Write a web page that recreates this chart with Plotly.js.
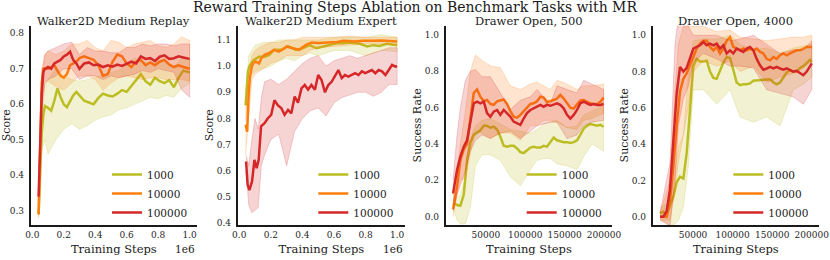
<!DOCTYPE html>
<html>
<head>
<meta charset="utf-8">
<script src="https://cdn.plot.ly/plotly-3.0.1.min.js"></script>
<style>html,body{margin:0;padding:0;background:#fff;}#chart{width:830px;height:260px;}</style>
</head>
<body>
<div id="chart"></div>
<script>
// ---------- Data ----------
const seriesNames = ['1000', '10000', '100000'];
const panelTitles = ['Walker2D Medium Replay', 'Walker2D Medium Expert', 'Drawer Open, 500', 'Drawer Open, 4000'];

// Panel 1: Walker2D Medium Replay
const wr_steps = [40000,50000,60000,70000,80000,100000,120000,140000,160000,180000,200000,220000,240000,260000,280000,300000,330000,360000,390000,420000,450000,480000,510000,540000,570000,600000,630000,660000,690000,720000,750000,780000,810000,840000,870000,900000,930000,960000,1000000];
const wr_1000 = [0.29,0.42,0.52,0.57,0.595,0.59,0.582,0.61,0.645,0.62,0.60,0.592,0.61,0.625,0.635,0.625,0.61,0.605,0.60,0.618,0.63,0.625,0.622,0.63,0.64,0.635,0.652,0.668,0.685,0.665,0.655,0.675,0.665,0.66,0.668,0.648,0.675,0.695,0.69];
const wr_10000 = [0.29,0.50,0.66,0.70,0.70,0.70,0.705,0.71,0.695,0.68,0.675,0.685,0.71,0.715,0.72,0.73,0.735,0.73,0.725,0.71,0.68,0.685,0.72,0.74,0.735,0.715,0.705,0.72,0.725,0.71,0.718,0.71,0.72,0.725,0.712,0.705,0.71,0.705,0.70];
const wr_100000 = [0.34,0.52,0.63,0.69,0.70,0.705,0.70,0.715,0.72,0.725,0.735,0.74,0.748,0.725,0.715,0.70,0.715,0.718,0.71,0.712,0.705,0.71,0.706,0.712,0.708,0.715,0.72,0.715,0.735,0.728,0.73,0.722,0.734,0.738,0.728,0.73,0.735,0.732,0.728];
const wr_band_steps = [40000,60000,80000,100000,150000,200000,250000,300000,350000,400000,450000,500000,550000,600000,650000,700000,750000,800000,850000,900000,950000,1000000];
const wr_1000_lo = [0.28,0.47,0.50,0.46,0.50,0.53,0.545,0.53,0.54,0.555,0.565,0.57,0.585,0.59,0.60,0.61,0.62,0.615,0.625,0.62,0.645,0.66];
const wr_1000_hi = [0.30,0.57,0.65,0.67,0.70,0.68,0.67,0.665,0.67,0.675,0.685,0.69,0.695,0.71,0.73,0.72,0.715,0.73,0.715,0.705,0.73,0.725];
const wr_10000_lo = [0.28,0.60,0.66,0.665,0.65,0.64,0.66,0.68,0.68,0.67,0.64,0.66,0.675,0.68,0.675,0.67,0.675,0.675,0.67,0.67,0.67,0.665];
const wr_10000_hi = [0.30,0.70,0.74,0.75,0.74,0.75,0.77,0.77,0.78,0.76,0.75,0.78,0.775,0.76,0.77,0.775,0.78,0.765,0.76,0.77,0.79,0.78];
const wr_100000_lo = [0.33,0.58,0.66,0.67,0.68,0.70,0.70,0.67,0.68,0.68,0.67,0.68,0.675,0.68,0.685,0.695,0.69,0.70,0.695,0.69,0.64,0.62];
const wr_100000_hi = [0.37,0.68,0.74,0.75,0.76,0.77,0.775,0.74,0.76,0.75,0.75,0.745,0.745,0.76,0.76,0.77,0.765,0.77,0.77,0.765,0.77,0.77];

// Panel 2: Walker2D Medium Expert
const we_1000_steps = [40000,55000,65000,80000,95000,125000,160000,190000,220000,265000,310000,360000,400000,445000,490000,530000,575000,615000,660000,700000,765000,810000,850000,890000,935000,980000,1000000];
const we_1000 = [0.85,0.98,1.0,1.015,1.024,1.036,1.036,1.043,1.062,1.062,1.075,1.062,1.068,1.08,1.068,1.075,1.08,1.087,1.087,1.09,1.085,1.075,1.08,1.077,1.085,1.08,1.08];
const we_10000_steps = [40000,50000,60000,68000,80000,90000,105000,125000,140000,160000,190000,220000,250000,280000,300000,340000,380000,420000,460000,500000,540000,580000,620000,660000,700000,740000,780000,820000,860000,900000,940000,980000,1000000];
const we_10000 = [0.776,0.75,0.90,0.96,1.0,1.012,1.017,1.01,1.03,1.043,1.05,1.062,1.055,1.065,1.075,1.068,1.062,1.08,1.09,1.088,1.09,1.09,1.092,1.097,1.095,1.094,1.097,1.096,1.097,1.098,1.097,1.096,1.094];
const we_100000_steps = [43000,53000,64000,81000,96000,110000,123000,138000,160000,180000,202000,223000,245000,266000,287000,309000,330000,351000,372000,394000,415000,436000,457000,479000,500000,521000,543000,564000,585000,606000,628000,649000,670000,691000,713000,734000,755000,777000,798000,819000,840000,862000,883000,904000,926000,947000,968000,989000,1000000];
const we_100000 = [0.636,0.547,0.527,0.56,0.642,0.61,0.642,0.77,0.782,0.80,0.814,0.87,0.85,0.84,0.814,0.833,0.82,0.884,0.86,0.915,0.928,0.91,0.928,0.91,0.966,0.947,0.90,0.928,0.94,0.96,0.985,0.954,0.966,0.96,0.966,0.973,0.966,0.98,0.973,0.98,0.985,0.973,0.985,0.98,0.966,0.985,1.005,0.998,1.0];
const we_band_steps = [40000,60000,80000,100000,150000,200000,250000,300000,350000,400000,450000,500000,600000,700000,800000,900000,1000000];
const we_1000_lo = [0.80,0.93,0.97,0.98,0.99,1.00,1.02,1.03,1.02,1.04,1.05,1.04,1.06,1.06,1.04,1.06,1.055];
const we_1000_hi = [0.90,1.04,1.06,1.08,1.09,1.09,1.10,1.10,1.10,1.10,1.10,1.10,1.11,1.11,1.11,1.12,1.11];
const we_10000_lo = [0.66,0.82,0.95,0.97,0.99,1.01,1.02,1.04,1.04,1.04,1.06,1.07,1.075,1.08,1.085,1.085,1.08];
const we_10000_hi = [0.85,0.97,1.04,1.06,1.08,1.09,1.09,1.10,1.10,1.11,1.11,1.11,1.11,1.115,1.11,1.11,1.11];
const we_100000_band_steps = [43000,60000,80000,100000,120000,140000,160000,200000,250000,300000,350000,400000,450000,500000,550000,600000,650000,700000,750000,800000,850000,900000,950000,1000000];
const we_100000_lo = [0.60,0.47,0.44,0.45,0.46,0.62,0.66,0.72,0.74,0.62,0.75,0.80,0.83,0.84,0.81,0.86,0.88,0.89,0.90,0.90,0.885,0.90,0.93,0.93];
const we_100000_hi = [0.66,0.62,0.72,0.80,0.76,0.88,0.94,0.95,0.93,0.95,0.98,1.01,1.03,1.04,1.00,1.02,1.03,1.04,1.03,1.04,1.05,1.06,1.07,1.07];

// Panel 3: Drawer Open, 500
const d5_steps = [8300,13400,17600,21900,26100,30300,34600,38800,43000,47300,51500,55700,60000,64200,68400,72600,76900,81100,85300,89600,93800,98000,102200,106500,110700,114900,119200,123400,127600,131900,136100,140300,144500,148800,153000,157200,161500,165700,169900,174200,178400,182600,186800,191100,195300,199500];
const d5_1000 = [0.077,0.064,0.06,0.12,0.31,0.41,0.45,0.465,0.475,0.50,0.50,0.49,0.495,0.48,0.44,0.39,0.385,0.39,0.39,0.375,0.355,0.35,0.365,0.38,0.385,0.38,0.38,0.39,0.385,0.41,0.435,0.42,0.415,0.41,0.41,0.405,0.41,0.42,0.45,0.485,0.50,0.51,0.505,0.50,0.505,0.495];
const d5_10000 = [0.04,0.165,0.31,0.37,0.40,0.53,0.68,0.70,0.66,0.635,0.642,0.62,0.615,0.635,0.642,0.645,0.62,0.58,0.55,0.545,0.56,0.58,0.60,0.62,0.624,0.635,0.66,0.655,0.63,0.635,0.642,0.65,0.67,0.65,0.625,0.60,0.595,0.62,0.64,0.642,0.633,0.624,0.62,0.62,0.632,0.655];
const d5_100000 = [0.128,0.257,0.33,0.385,0.42,0.53,0.624,0.633,0.624,0.633,0.57,0.55,0.578,0.587,0.56,0.587,0.57,0.55,0.523,0.514,0.505,0.54,0.57,0.587,0.596,0.605,0.615,0.605,0.615,0.61,0.615,0.624,0.615,0.596,0.56,0.54,0.56,0.587,0.624,0.633,0.624,0.615,0.62,0.615,0.615,0.62];
const d5_band_steps = [8300,13400,17600,24000,30300,36700,45100,55700,68400,81100,93800,106500,114900,123400,131900,140300,153000,165700,174200,184700,199500];
const d5_1000_lo = [0.05,-0.02,-0.04,-0.04,0.05,0.28,0.34,0.34,0.31,0.22,0.17,0.26,0.31,0.32,0.32,0.29,0.28,0.26,0.33,0.40,0.36];
const d5_1000_hi = [0.10,0.10,0.12,0.22,0.42,0.50,0.53,0.54,0.51,0.48,0.47,0.46,0.48,0.51,0.52,0.53,0.49,0.50,0.56,0.58,0.61];
const d5_10000_lo = [0.0,0.12,0.20,0.21,0.35,0.47,0.46,0.43,0.46,0.46,0.42,0.50,0.50,0.53,0.53,0.52,0.49,0.48,0.53,0.54,0.57];
const d5_10000_hi = [0.12,0.25,0.40,0.58,0.80,0.89,0.86,0.83,0.82,0.72,0.70,0.73,0.74,0.72,0.70,0.75,0.73,0.70,0.72,0.72,0.73];
const d5_100000_lo = [0.03,0.12,0.17,0.25,0.36,0.42,0.45,0.43,0.46,0.47,0.43,0.47,0.50,0.51,0.52,0.52,0.43,0.45,0.50,0.52,0.53];
const d5_100000_hi = [0.20,0.45,0.60,0.75,0.80,0.81,0.77,0.77,0.68,0.59,0.64,0.66,0.70,0.66,0.62,0.72,0.70,0.68,0.75,0.73,0.70];

// Panel 4: Drawer Open, 4000
const d4_steps = [8300,12500,16700,20900,25200,29400,33600,37800,42000,46200,50400,54600,58800,63100,67300,71500,75700,79900,84100,88300,92500,96700,100900,105100,109400,113600,117800,122000,126200,130400,134600,138800,143000,147300,151500,155700,159900,164100,168300,172500,176700,180900,185100,189300,193600,197800,200000];
const d4_1000 = [0.018,0.028,0.01,0.055,0.11,0.19,0.22,0.21,0.35,0.587,0.83,0.87,0.855,0.855,0.86,0.80,0.765,0.76,0.80,0.85,0.88,0.875,0.81,0.74,0.725,0.73,0.73,0.735,0.75,0.752,0.755,0.756,0.755,0.758,0.74,0.73,0.74,0.765,0.795,0.807,0.80,0.80,0.82,0.83,0.85,0.865,0.853];
const d4_10000 = [0.0,0.0,0.0,0.09,0.275,0.50,0.69,0.76,0.79,0.835,0.88,0.927,0.954,0.97,0.97,0.936,0.917,0.936,0.90,0.927,0.97,0.99,0.936,0.927,0.917,0.927,0.917,0.927,0.917,0.927,0.908,0.90,0.87,0.862,0.88,0.87,0.89,0.90,0.89,0.90,0.908,0.917,0.917,0.927,0.936,0.936,0.936];
const d4_100000 = [0.0,0.0,0.03,0.15,0.42,0.68,0.826,0.80,0.82,0.88,0.927,0.936,0.945,0.963,0.945,0.954,0.945,0.954,0.927,0.945,0.90,0.917,0.90,0.927,0.917,0.908,0.927,0.936,0.917,0.87,0.835,0.81,0.817,0.826,0.817,0.826,0.817,0.81,0.817,0.81,0.80,0.804,0.79,0.78,0.80,0.835,0.845];
const d4_band_steps = [8300,20950,27300,31500,37800,44100,50400,63050,79900,96700,109400,126200,143000,159900,176700,189300,200000];
const d4_1000_lo = [-0.01,-0.05,-0.04,-0.02,0.05,0.28,0.70,0.70,0.62,0.70,0.55,0.52,0.55,0.50,0.70,0.73,0.77];
const d4_1000_hi = [0.05,0.08,0.25,0.38,0.45,0.78,0.97,0.98,0.98,1.0,0.95,0.92,0.93,0.90,0.93,0.94,0.95];
const d4_10000_lo = [-0.02,-0.02,0.15,0.30,0.45,0.60,0.80,0.86,0.83,0.86,0.80,0.83,0.74,0.77,0.79,0.82,0.86];
const d4_10000_hi = [0.02,0.20,0.70,0.95,1.05,1.05,1.05,1.05,1.02,1.03,0.99,0.98,0.97,0.98,0.99,0.99,1.0];
const d4_100000_lo = [-0.02,-0.05,0.20,0.50,0.65,0.72,0.85,0.90,0.87,0.83,0.83,0.82,0.70,0.68,0.66,0.62,0.70];
const d4_100000_hi = [0.02,0.30,0.95,1.1,1.1,1.05,1.0,1.0,1.0,0.97,0.98,1.0,0.95,0.90,0.92,0.92,0.97];

const lineColors = ['#bcbd22', '#ff7f0e', '#d62728'];
const bandColors = ['rgba(188,189,34,0.2)', 'rgba(255,127,14,0.2)', 'rgba(214,39,40,0.2)'];
const bandEdges = ['rgba(188,189,34,0.35)', 'rgba(255,127,14,0.35)', 'rgba(214,39,40,0.35)'];

// ---------- Build traces ----------
const panels = [
  {ax: '', legend: 'legend', lines: [[wr_steps, wr_1000], [wr_steps, wr_10000], [wr_steps, wr_100000]],
   bands: [[wr_band_steps, wr_1000_lo, wr_1000_hi], [wr_band_steps, wr_10000_lo, wr_10000_hi], [wr_band_steps, wr_100000_lo, wr_100000_hi]]},
  {ax: '2', legend: 'legend2', lines: [[we_1000_steps, we_1000], [we_10000_steps, we_10000], [we_100000_steps, we_100000]],
   bands: [[we_band_steps, we_1000_lo, we_1000_hi], [we_band_steps, we_10000_lo, we_10000_hi], [we_100000_band_steps, we_100000_lo, we_100000_hi]]},
  {ax: '3', legend: 'legend3', lines: [[d5_steps, d5_1000], [d5_steps, d5_10000], [d5_steps, d5_100000]],
   bands: [[d5_band_steps, d5_1000_lo, d5_1000_hi], [d5_band_steps, d5_10000_lo, d5_10000_hi], [d5_band_steps, d5_100000_lo, d5_100000_hi]]},
  {ax: '4', legend: 'legend4', lines: [[d4_steps, d4_1000], [d4_steps, d4_10000], [d4_steps, d4_100000]],
   bands: [[d4_band_steps, d4_1000_lo, d4_1000_hi], [d4_band_steps, d4_10000_lo, d4_10000_hi], [d4_band_steps, d4_100000_lo, d4_100000_hi]]}
];

const traces = [];
panels.forEach(p => {
  for (let i = 0; i < 3; i++) {
    const [bx, lo, hi] = p.bands[i];
    traces.push({
      type: 'scatter', mode: 'lines', xaxis: 'x' + p.ax, yaxis: 'y' + p.ax,
      x: bx.concat(bx.slice().reverse()), y: hi.concat(lo.slice().reverse()),
      fill: 'toself', fillcolor: bandColors[i], line: {color: bandEdges[i], width: 0.6},
      hoverinfo: 'skip', showlegend: false
    });
    const [lx, ly] = p.lines[i];
    traces.push({
      type: 'scatter', mode: 'lines', xaxis: 'x' + p.ax, yaxis: 'y' + p.ax,
      x: lx, y: ly, name: seriesNames[i], legend: p.legend,
      line: {color: lineColors[i], width: 2.5}, showlegend: true
    });
  }
});

// ---------- Layout ----------
const FONT = "'DejaVu Serif', 'Liberation Serif', serif";
const TXT = '#262626';
const W = 830, H = 260;
const yDom = [(H - 225) / H, (H - 25.5) / H];
const xDoms = [[30.7 / W, 197 / W], [237.7 / W, 405 / W], [445.7 / W, 612.3 / W], [652.7 / W, 819 / W]];
const xRanges = [[-10200, 1047000], [-10000, 1050000], [-1000, 210500], [-900, 209100]];
const yRanges = [[0.26, 0.822], [0.3935, 1.155], [-0.046, 1.052], [-0.046, 1.054]];
const yTicks = [[0.3, 0.4, 0.5, 0.6, 0.7, 0.8], [0.4, 0.5, 0.6, 0.7, 0.8, 0.9, 1.0, 1.1], [0, 0.2, 0.4, 0.6, 0.8, 1.0], [0, 0.2, 0.4, 0.6, 0.8, 1.0]];
const yTitles = ['Score', 'Score', 'Success Rate', 'Success Rate'];
const walkerTickVals = [0, 200000, 400000, 600000, 800000, 1000000];
const walkerTickText = ['0.0', '0.2', '0.4', '0.6', '0.8', '1.0'];
const drawerTickVals = [50000, 100000, 150000, 200000];
const legendX = [107 / W, 313.3 / W, 521.7 / W, 728.3 / W];

const layout = {
  width: W, height: H,
  margin: {l: 0, r: 0, t: 0, b: 0, autoexpand: false},
  paper_bgcolor: '#ffffff', plot_bgcolor: '#ffffff',
  font: {family: FONT, color: TXT, size: 9},
  title: {text: 'Reward Training Steps Ablation on Benchmark Tasks with MR', x: 0.5, xanchor: 'center', y: 1 - 7 / H, yanchor: 'middle', yref: 'container', font: {family: FONT, size: 14, color: '#1a1a1a'}},
  annotations: [],
  showlegend: true
};

for (let k = 0; k < 4; k++) {
  const s = k === 0 ? '' : String(k + 1);
  const xa = {
    domain: xDoms[k], range: xRanges[k], anchor: 'y' + s,
    showgrid: false, zeroline: false, showline: true, linecolor: '#1a1a1a', linewidth: 1.8,
    ticks: '', tickfont: {family: FONT, size: 9, color: TXT},
    title: {text: 'Training Steps', font: {family: FONT, size: 11.5, color: '#1a1a1a'}, standoff: 6},
    automargin: false, fixedrange: true
  };
  if (k < 2) { xa.tickvals = walkerTickVals; xa.ticktext = walkerTickText; }
  else { xa.tickvals = drawerTickVals; xa.tickformat = 'd'; }
  const ya = {
    domain: yDom, range: yRanges[k], anchor: 'x' + s,
    showgrid: false, zeroline: false, showline: true, linecolor: '#1a1a1a', linewidth: 1.8,
    ticks: 'outside', ticklen: 3, tickcolor: 'rgba(0,0,0,0)',
    tickvals: yTicks[k], tickformat: '.1f',
    tickfont: {family: FONT, size: 9, color: TXT},
    title: {text: yTitles[k], font: {family: FONT, size: 11, color: '#1a1a1a'}, standoff: 1},
    automargin: false, fixedrange: true
  };
  layout['xaxis' + s] = xa;
  layout['yaxis' + s] = ya;

  layout[k === 0 ? 'legend' : 'legend' + (k + 1)] = {
    x: legendX[k], xanchor: 'left', xref: 'paper',
    y: (H - 193.5) / H, yanchor: 'middle', yref: 'paper',
    bgcolor: 'rgba(0,0,0,0)', borderwidth: 0,
    font: {family: FONT, size: 10.5, color: '#1a1a1a'}
  };

  layout.annotations.push({
    text: panelTitles[k], xref: 'paper', yref: 'paper',
    x: (xDoms[k][0] + xDoms[k][1]) / 2, xanchor: 'center',
    y: (H - 20.5) / H, yanchor: 'middle', showarrow: false,
    font: {family: FONT, size: 11.5, color: '#1a1a1a'}
  });
  if (k < 2) {
    layout.annotations.push({
      text: '1e6', xref: 'paper', yref: 'paper',
      x: xDoms[k][1], xanchor: 'right', y: (H - 248.5) / H, yanchor: 'middle',
      showarrow: false, font: {family: FONT, size: 10.5, color: '#1a1a1a'}
    });
  }
}

Plotly.newPlot('chart', traces, layout, {displayModeBar: false, staticPlot: true});
</script>
</body>
</html>
